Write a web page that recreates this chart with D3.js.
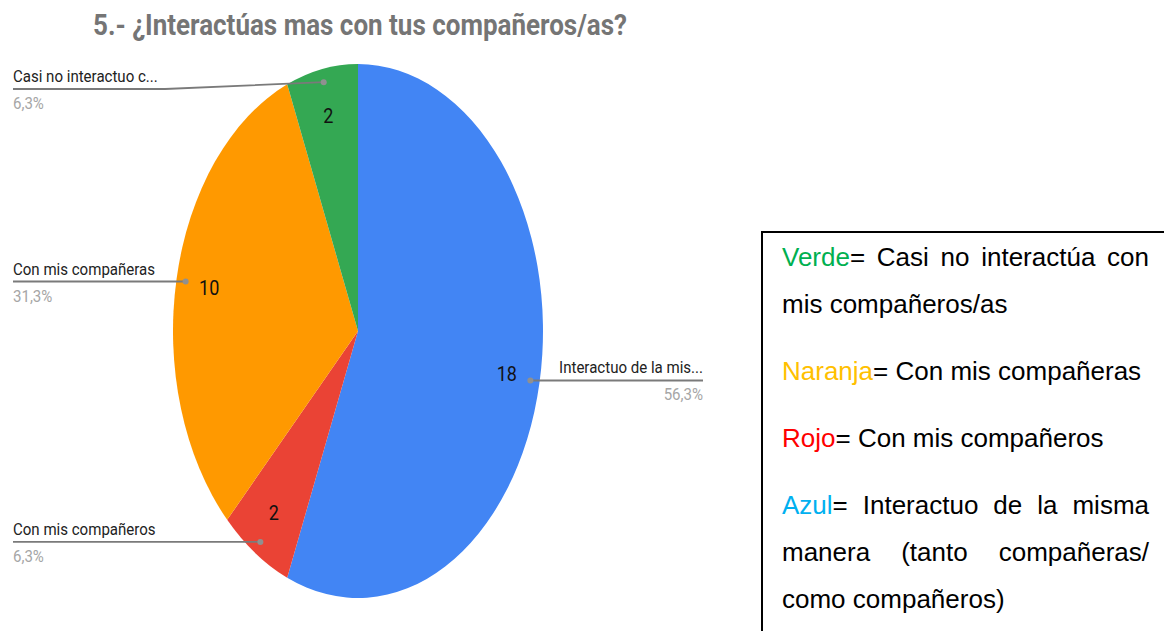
<!DOCTYPE html>
<html>
<head>
<meta charset="utf-8">
<script src="https://cdn.jsdelivr.net/npm/d3@7"></script>
<style>
  html, body { margin: 0; padding: 0; background: #fff; overflow: hidden; }
  #chart { position: absolute; left: 0; top: 0; }
  #legend {
    position: absolute; left: 761px; top: 231px; width: 600px; height: 500px;
    border-left: 2px solid #000; border-top: 2px solid #000; box-sizing: border-box;
  }
  #legend .txt {
    position: absolute; left: 19px; top: 1px; width: 367px;
    font-family: "Liberation Sans", Arial, sans-serif; font-size: 26px;
    line-height: 47px; text-align: justify; color: #000;
  }
  #legend p { margin: 0 0 20px 0; }
</style>
</head>
<body>
<svg id="chart" width="1164" height="631"></svg>
<div id="legend"><div class="txt"></div></div>
<script>
// datos del grafico
var title = "5.- ¿Interactúas mas con tus compañeros/as?";
var categories = ["Interactuo de la mis...", "Con mis compañeros", "Con mis compañeras", "Casi no interactuo c..."];
var values = [18, 2, 10, 2];
var percentLabels = ["56,3%", "6,3%", "31,3%", "6,3%"];
var sliceColors = ["#4285F4", "#EA4335", "#FF9900", "#34A853"];

// cuadro de la leyenda
var legendNames = ["Verde", "Naranja", "Rojo", "Azul"];
var legendColors = ["#00B050", "#FFC000", "#FF0000", "#00B0F0"];
var legendTexts = ["= Casi no interactúa con mis compañeros/as",
                   "= Con mis compañeras",
                   "= Con mis compañeros",
                   "= Interactuo de la misma manera (tanto compañeras/ como compañeros)"];

var svg = d3.select("#chart");
var cx = 358, cy = 331, rx = 185, ry = 267;
var R = 100;

// titulo (fuente condensada simulada con textLength)
svg.append("text")
    .attr("x", 360)
    .attr("y", 35)
    .attr("text-anchor", "middle")
    .attr("font-family", "Roboto, sans-serif")
    .attr("font-weight", "bold")
    .attr("font-size", 30)
    .attr("fill", "#757575")
    .attr("textLength", 534)
    .attr("lengthAdjust", "spacingAndGlyphs")
    .text(title);

var pie = d3.pie().sort(null).value(function(d) { return d; });
var arcs = pie(values);
var arc = d3.arc().innerRadius(0).outerRadius(R);

var g = svg.append("g")
    .attr("transform", "translate(" + cx + "," + cy + ") scale(" + (rx / R) + "," + (ry / R) + ")");

g.selectAll("path")
    .data(arcs)
    .enter()
    .append("path")
    .attr("d", arc)
    .attr("fill", function(d, i) { return sliceColors[i]; });

function pointAt(d, f) {
    var a = (d.startAngle + d.endAngle) / 2;
    return [cx + rx * f * Math.sin(a), cy - ry * f * Math.cos(a)];
}

function condense(sel, k) {
    sel.each(function() {
        var w = this.getComputedTextLength();
        d3.select(this).attr("textLength", w * k).attr("lengthAdjust", "spacingAndGlyphs");
    });
}

// numeros dentro de los sectores
svg.selectAll(".val")
    .data(arcs)
    .enter()
    .append("text")
    .attr("class", "val")
    .attr("x", function(d) { return pointAt(d, 0.82)[0]; })
    .attr("y", function(d) { return pointAt(d, 0.82)[1] + 7; })
    .attr("text-anchor", "middle")
    .attr("font-family", "Roboto, sans-serif")
    .attr("font-size", 20)
    .attr("fill", "#111")
    .text(function(d) { return d.data; })
    .call(condense, 0.9);

// etiquetas con lineas guia
var labelX = 13, rightX = 703, minLineY = 89;
arcs.forEach(function(d, i) {
    var p = pointAt(d, 0.95);
    var left = p[0] < cx;
    var ly = Math.max(p[1], minLineY);
    var path;
    if (left) {
        path = ly > p[1] ? ("M" + labelX + "," + ly + "L165," + ly + "L" + p[0] + "," + p[1])
                         : ("M" + labelX + "," + ly + "L" + p[0] + "," + p[1]);
    } else {
        path = "M" + p[0] + "," + p[1] + "L" + rightX + "," + ly;
    }
    svg.append("path")
        .attr("d", path)
        .attr("fill", "none")
        .attr("stroke", "#7a7a7a")
        .attr("stroke-width", 1.8);
    svg.append("circle")
        .attr("cx", p[0]).attr("cy", p[1]).attr("r", 3)
        .attr("fill", "#909090");
    var tx = left ? labelX : rightX;
    var anchor = left ? "start" : "end";
    svg.append("text")
        .attr("x", tx).attr("y", ly - 7)
        .attr("text-anchor", anchor)
        .attr("font-family", "Roboto, sans-serif")
        .attr("font-size", 16)
        .attr("fill", "#222")
        .text(categories[i])
        .call(condense, 0.94);
    svg.append("text")
        .attr("x", tx).attr("y", ly + 20)
        .attr("text-anchor", anchor)
        .attr("font-family", "Roboto, sans-serif")
        .attr("font-size", 16)
        .attr("fill", "#a6a6a6")
        .text(percentLabels[i])
        .call(condense, 0.94);
});

// leyenda en texto
var txt = d3.select("#legend .txt");
legendNames.forEach(function(n, i) {
    var p = txt.append("p");
    p.append("span").style("color", legendColors[i]).text(n);
    p.append("span").text(legendTexts[i]);
});
</script>
</body>
</html>
